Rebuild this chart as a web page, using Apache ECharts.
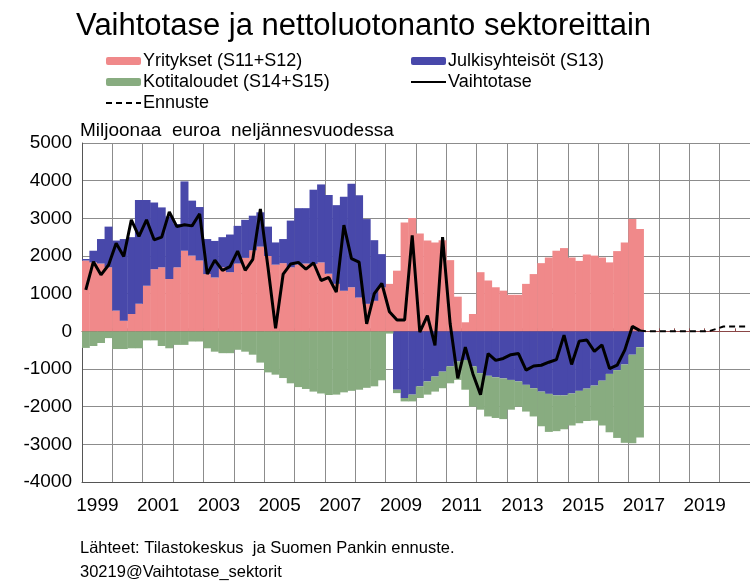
<!DOCTYPE html>
<html>
<head>
<meta charset="utf-8">
<script src="https://cdn.jsdelivr.net/npm/echarts@6/dist/echarts.min.js"></script>
<style>
  html, body { margin: 0; padding: 0; background: #fff; }
  #chart { width: 750px; height: 582px; }
</style>
</head>
<body>
<div id="chart"></div>
<script>
// quarters 1999Q1 .. 2020Q4
const quarters = [];
for (let y = 1999; y <= 2020; y++) {
  for (let q = 1; q <= 4; q++) quarters.push(y + 'Q' + q);
}
const yearLabels = ['1999', '2001', '2003', '2005', '2007', '2009', '2011', '2013', '2015', '2017', '2019'];

// milj. euroa / neljännes, 1999Q1 .. 2017Q2
const yritykset = [
  1880, 1830, 1800, 1700, 550, 280, 460, 730, 1210, 1650, 1700, 1390,
  1700, 2140, 2010, 1880, 1520, 1430, 1700, 1570, 1800, 1950, 2150, 2250,
  2000, 1770, 1810, 1700, 1770, 1800, 1790, 1830, 1530, 1260, 1080, 1170,
  900, 730, 810, 1170, 1260, 1610, 2890, 3010, 2600, 2410, 2360, 2420,
  1890, 920, 240, 460, 1570, 1350, 1170, 1080, 970, 970, 1260, 1520,
  1810, 1960, 2140, 2210, 1960, 1870, 2040, 2010, 1960, 1830, 2130, 2360,
  2980, 2720
];
const julkisyhteisot = [
  40, 310, 650, 1080, 1860, 2170, 2040, 2760, 2280, 1770, 1590, 1660,
  1150, 1840, 1460, 1420, 930, 970, 800, 1000, 1000, 1010, 920, 910,
  780, 590, 640, 1240, 1500, 1470, 1970, 2070, 2090, 2090, 2490, 2750,
  2710, 2250, 1610, 880, 0, -1550, -1770, -1680, -1460, -1330, -1200, -1070,
  -930, -800, -760, -930, -1110, -1180, -1220, -1250, -1290, -1330, -1420, -1510,
  -1600, -1660, -1700, -1700, -1650, -1580, -1520, -1440, -1310, -1130, -1030, -880,
  -620, -420
];
const kotitaloudet = [
  -440, -390, -310, -180, -470, -470, -450, -450, -240, -240, -390, -450,
  -360, -360, -270, -270, -450, -540, -580, -580, -490, -540, -620, -830,
  -1090, -1150, -1240, -1380, -1480, -1530, -1600, -1650, -1690, -1680, -1620, -1580,
  -1550, -1500, -1460, -1300, -60, -90, -90, -180, -310, -350, -400, -440,
  -450, -490, -790, -1070, -970, -1080, -1080, -1080, -790, -670, -710, -750,
  -920, -1010, -950, -900, -850, -860, -860, -930, -1190, -1550, -1800, -2080,
  -2350, -2400
];
const vaihtotase = [
  1100, 1850, 1500, 1760, 2340, 1990, 2960, 2520, 2960, 2430, 2500, 3170,
  2780, 2830, 2800, 3120, 1520, 1890, 1620, 1720, 2130, 1620, 1910, 3250,
  1700, 80, 1520, 1790, 1830, 1650, 1820, 1350, 1430, 1040, 2820, 1930,
  1840, 200, 1000, 1270, 520, 300, 300, 2550, -20, 420, -370, 2500,
  200, -1250, -420, -1130, -1680, -590, -770, -720, -620, -590, -1030, -920,
  -900, -820, -750, -100, -880, -260, -230, -530, -360, -990, -900, -500,
  130, 20
];
// ennuste alkaa 2017Q2:sta
const ennusteStart = 73;
const ennuste = [20, 0, 0, 0, 0, 0, 0, 0, 0, 0, 60, 130, 130, 130, 130];

const font = 'Liberation Sans, Arial, sans-serif';
const red = '#F0898A', blue = '#4848AA', green = '#88AC80';

const chart = echarts.init(document.getElementById('chart'));

const barSeries = (name, data, color) => ({
  name, type: 'bar', stack: 'sek', data,
  xAxisIndex: 0,
  barWidth: 8,
  barCategoryGap: 0,
  barGap: 0,
  itemStyle: { color },
  emphasis: { disabled: true }
});

const legendText = { fontSize: 18, color: '#000', fontFamily: font, padding: [0, 0, 0, -3] };

chart.setOption({
  animation: false,
  textStyle: { fontFamily: font },
  title: {
    text: 'Vaihtotase ja nettoluotonanto sektoreittain',
    left: 71, top: 6,
    textStyle: { fontSize: 31, fontWeight: 'normal', color: '#000', fontFamily: font }
  },
  legend: [
    {
      left: 105, top: 52, padding: 0, orient: 'vertical', itemWidth: 35, itemHeight: 8, itemGap: 3,
      data: ['Yritykset (S11+S12)', 'Kotitaloudet (S14+S15)', 'Ennuste'],
      textStyle: legendText
    },
    {
      left: 410, top: 52, padding: 0, orient: 'vertical', itemWidth: 35, itemHeight: 8, itemGap: 3,
      data: ['Julkisyhteisöt (S13)', 'Vaihtotase'],
      textStyle: legendText
    }
  ],
  graphic: [
    { type: 'text', left: 80, top: 121, style: { text: 'Miljoonaa  euroa  neljännesvuodessa', font: '19px ' + font, fill: '#000' } },
    { type: 'text', left: 80, top: 540, style: { text: 'Lähteet: Tilastokeskus  ja Suomen Pankin ennuste.', font: '16.5px ' + font, fill: '#000' } },
    { type: 'text', left: 80, top: 564, style: { text: '30219@Vaihtotase_sektorit', font: '16.5px ' + font, fill: '#000' } }
  ],
  grid: { left: 82, right: 0, top: 143, bottom: 100, containLabel: false },
  xAxis: [
    {
      type: 'category', data: quarters, position: 'bottom',
      axisLine: { onZero: false, lineStyle: { color: '#555', width: 1 } },
      axisTick: { show: false },
      axisLabel: {
        interval: (i, v) => i % 4 === 1 && yearLabels.includes(v.slice(0, 4)),
        formatter: v => v.slice(0, 4),
        padding: [0, 0, 0, 8],
        fontSize: 19, color: '#000', margin: 14, fontFamily: font
      },
      splitLine: { show: true, interval: i => i % 4 === 0, lineStyle: { color: '#8c8c8c', width: 1 } }
    },
    {
      type: 'category', data: quarters, position: 'top',
      axisLine: { onZero: true, lineStyle: { color: '#8a4646', width: 1 } },
      axisTick: { show: true, interval: 1, length: 3, lineStyle: { color: '#8a4646' } },
      axisLabel: { show: false },
      splitLine: { show: false }
    }
  ],
  yAxis: {
    type: 'value', min: -4000, max: 5000, interval: 1000,
    axisLine: { show: true, lineStyle: { color: '#555', width: 1 } },
    axisTick: { show: false },
    axisLabel: { fontSize: 19, color: '#000', margin: 10, fontFamily: font, formatter: v => String(v) },
    splitLine: { lineStyle: { color: '#8c8c8c', width: 1 } }
  },
  series: [
    barSeries('Yritykset (S11+S12)', yritykset, red),
    barSeries('Julkisyhteisöt (S13)', julkisyhteisot, blue),
    barSeries('Kotitaloudet (S14+S15)', kotitaloudet, green),
    {
      name: 'Vaihtotase', type: 'line', data: vaihtotase, symbol: 'none',
      lineStyle: { color: '#000', width: 3 }, itemStyle: { color: 'transparent' }, z: 5
    },
    {
      name: 'Ennuste', type: 'line',
      data: new Array(ennusteStart).fill(null).concat(ennuste),
      symbol: 'none',
      lineStyle: { color: '#000', width: 2, type: [6, 4] }, itemStyle: { color: 'transparent' }, z: 5
    }
  ]
});
</script>
</body>
</html>
